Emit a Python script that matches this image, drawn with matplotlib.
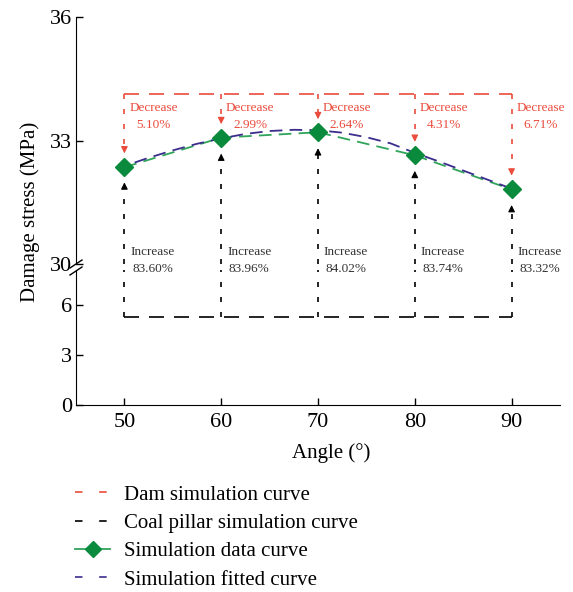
import matplotlib
matplotlib.use('Agg')
from matplotlib import pyplot as plt
from matplotlib.lines import Line2D

angles = [50, 60, 70, 80, 90]
stress = [32.35, 33.07, 33.20, 32.64, 31.81]
fit_x = [50, 52.5, 55, 57.5, 60, 62.5, 65, 67.5, 70, 72.5, 75, 77.5, 80, 82.5, 85, 87.5, 90]
fit_y = [32.38, 32.58, 32.76, 32.92, 33.05, 33.16, 33.23, 33.26, 33.25, 33.19, 33.08, 32.93,
         32.70, 32.49, 32.27, 32.05, 31.83]
dam_top = 34.12
dam_tip = [32.62, 33.33, 33.45, 32.90, 32.08]
coal_bottom = 5.27
coal_tip = [32.05, 32.75, 32.88, 32.33, 31.50]
dec_labels = ['5.10%', '2.99%', '2.64%', '4.31%', '6.71%']
inc_labels = ['83.60%', '83.96%', '84.02%', '83.74%', '83.32%']

RED = '#ea4b3c'
GREEN = '#0a8a3c'
GREEN_L = '#2fa45a'
BLUE = '#3a2d8c'
GREY = '#333333'

plt.rcParams['font.family'] = 'Liberation Serif'
plt.rcParams['font.size'] = 15

fig = plt.figure(figsize=(5.73, 5.92), dpi=100)
L, R = 76/573, 560/573
top = fig.add_axes([L, 1-264/592, R-L, (264-17)/592])
bot = fig.add_axes([L, 1-405/592, R-L, (405-270)/592])

for ax in (top, bot):
    ax.set_xlim(45, 95)
    for s in ('top', 'right'):
        ax.spines[s].set_visible(False)
    ax.tick_params(direction='in', length=5, width=1, labelsize=16, pad=3)
    ax.patch.set_alpha(0)
top.spines['bottom'].set_visible(False)
top.tick_params(axis='x', bottom=False, labelbottom=False)
top.set_ylim(30, 36)
top.set_yticks([30, 33, 36])
bot.set_ylim(0, 8.1)
bot.set_yticks([0, 3, 6])
bot.set_xticks(angles)
bot.tick_params(axis='x', pad=6)

# dam (red) dashed box and arrows
top.plot([angles[0], angles[-1]], [dam_top, dam_top], color=RED, lw=1.2, dashes=(9, 6))
for x, tip, lab in zip(angles, dam_tip, dec_labels):
    top.plot([x, x], [dam_top, tip + 0.18], color=RED, lw=1.2, dashes=(3, 6))
    top.annotate('', xy=(x, tip), xytext=(x, tip + 0.22),
                 arrowprops=dict(arrowstyle='-|>', color=RED, lw=0.8, mutation_scale=10))
    top.text(x + 3.0, 33.78, 'Decrease', color=RED, fontsize=9.5, ha='center', va='center')
    top.text(x + 3.0, 33.38, lab, color=RED, fontsize=9.5, ha='center', va='center')

# coal pillar (black) dashed box and arrows
bot.plot([angles[0], angles[-1]], [coal_bottom, coal_bottom], color='black', lw=1.2,
         dashes=(9, 6))
for x, tip, lab in zip(angles, coal_tip, inc_labels):
    bot.plot([x, x], [coal_bottom, 8.1], color='black', lw=1.2, dashes=(3, 6))
    top.plot([x, x], [30, tip - 0.18], color='black', lw=1.2, dashes=(3, 6))
    top.annotate('', xy=(x, tip), xytext=(x, tip - 0.22),
                 arrowprops=dict(arrowstyle='-|>', color='black', lw=0.8, mutation_scale=10))
    top.text(x + 2.9, 30.28, 'Increase', color=GREY, fontsize=9.5, ha='center', va='center')
    top.text(x + 2.9, 29.88, lab, color=GREY, fontsize=9.5, ha='center', va='center')

# data and fitted curve
top.plot(angles, stress, color=GREEN_L, lw=1.3, dashes=(7, 4), zorder=3)
top.plot(fit_x, fit_y, color=BLUE, lw=1.3, linestyle=(5, (7, 4)), zorder=3)
top.plot(angles, stress, linestyle='none', marker='D', ms=9.5, color=GREEN, zorder=4)

# break marks on the y axis
for yy in (264, 271):
    fig.add_artist(Line2D([70/573, 82/573], [1-(yy+4)/592, 1-(yy-4)/592],
                          color='black', lw=1))

fig.text(331/573, 1-453/592, 'Angle (°)', ha='center', va='center', fontsize=15)
fig.text(30/573, 1-212/592, 'Damage stress (MPa)', ha='center', va='center',
         rotation=90, fontsize=15)

handles = [
    Line2D([], [], color=RED, lw=1.2, dashes=(4.5, 10)),
    Line2D([], [], color='black', lw=1.2, dashes=(4.5, 10)),
    Line2D([], [], color=GREEN_L, lw=1.3, marker='D', ms=8, markerfacecolor=GREEN,
           markeredgecolor=GREEN),
    Line2D([], [], color=BLUE, lw=1.2, dashes=(4.5, 10)),
]
labels = ['Dam simulation curve', 'Coal pillar simulation curve',
          'Simulation data curve', 'Simulation fitted curve']
fig.legend(handles, labels, loc='upper left', bbox_to_anchor=(75/573, 1-485/592),
           frameon=False, fontsize=15, handlelength=1.7, handletextpad=0.65,
           labelspacing=0.42, borderpad=0, borderaxespad=0)

fig.savefig('out.png', dpi=100)
